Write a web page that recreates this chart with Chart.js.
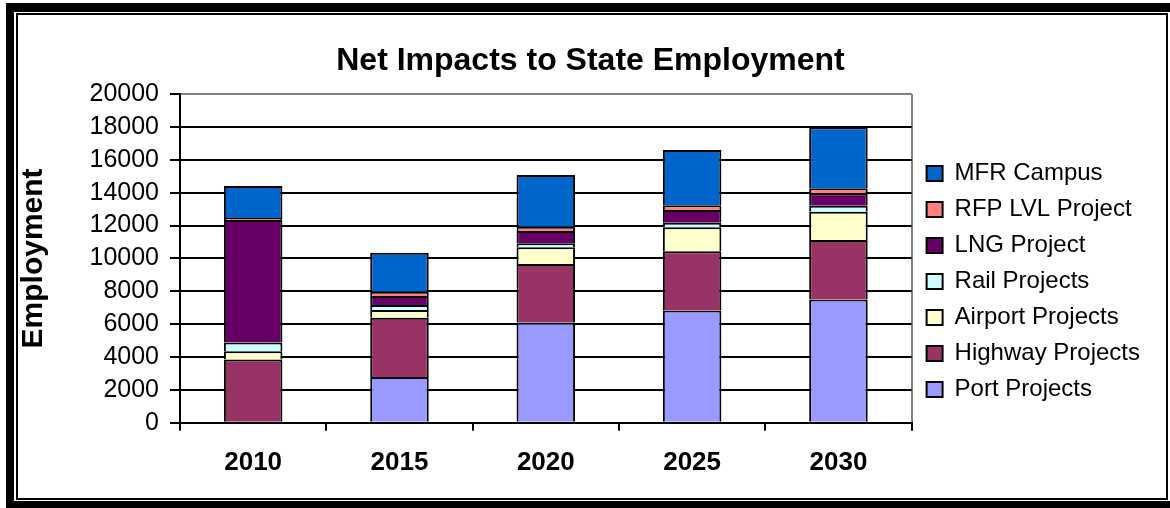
<!DOCTYPE html>
<html>
<head>
<meta charset="utf-8">
<title>Net Impacts to State Employment</title>
<script src="https://cdn.jsdelivr.net/npm/chart.js@4.4.1/dist/chart.umd.min.js"></script>
<style>
  html, body { margin: 0; padding: 0; background: #fff; }
  body { width: 1170px; height: 508px; position: relative; overflow: hidden; }
  /* heavy outer frame + thin inner chart border */
  #frame { position: absolute; left: 6px; top: 3px; width: 1200px; height: 505px; box-sizing: border-box;
           border: solid #000; border-width: 9px 0 7px 8px; }
  #inner { position: absolute; left: 16px; top: 13px; width: 1152px; height: 487px; box-sizing: border-box;
           border: 2.5px solid #000; background: #fff; }
  #wrap { position: absolute; left: 0; top: 0; width: 1170px; height: 508px; }
</style>
</head>
<body>
<div id="frame"></div>
<div id="inner"></div>
<div id="wrap"><canvas id="chart"></canvas></div>
<script>
// Net employment impact by project group, stacked per milestone year
const years = ['2010', '2015', '2020', '2025', '2030'];

const portProjects    = [0,    2780, 6100, 6830, 7500];
const highwayProjects = [3850, 3610, 3560, 3610, 3620];
const airportProjects = [500,  470,  1020, 1460, 1720];
const railProjects    = [530,  300,  240,  270,  370];
const lngProject      = [7450, 550,  750,  770,  750];
const rfpLvlProject   = [120,  260,  260,  290,  300];
const mfrCampus       = [1950, 2370, 3150, 3370, 3710];

const yMin = 0, yMax = 20000, yStep = 2000;

const FONT = "'Liberation Sans', Arial, sans-serif";
Chart.defaults.font.family = FONT;
Chart.defaults.color = '#000';

// bottom-to-top stacking order (legend lists it reversed)
const groups = [
  ['Port Projects',    portProjects,    '#9999FF'],
  ['Highway Projects', highwayProjects, '#993366'],
  ['Airport Projects', airportProjects, '#FFFFCC'],
  ['Rail Projects',    railProjects,    '#CCFFFF'],
  ['LNG Project',      lngProject,      '#660066'],
  ['RFP LVL Project',  rfpLvlProject,   '#FF8080'],
  ['MFR Campus',       mfrCampus,       '#0066CC']
];

const datasets = groups.map(([label, data, color]) => ({
  label,
  data,
  backgroundColor: color,
  borderColor: '#000',
  borderWidth: 2,
  borderSkipped: 'start',
  barPercentage: 0.4,
  categoryPercentage: 1.0
}));

// legend column sits a little lower than the plot centre, title a bit right
const boxNudge = {
  id: 'boxNudge',
  afterLayout(chart) {
    const lg = chart.legend;
    lg.top += 23; lg.bottom += 23;
    lg.left += 3; lg.right += 3;
    const tb = chart.titleBlock;
    tb.left += 9; tb.right += 9;
  }
};

new Chart(document.getElementById('chart'), {
  type: 'bar',
  data: { labels: years, datasets },
  plugins: [boxNudge],
  options: {
    responsive: true,
    maintainAspectRatio: false,
    animation: false,
    layout: { padding: { top: 20, right: 23, bottom: 14, left: 16 } },
    plugins: {
      title: {
        display: true,
        text: 'Net Impacts to State Employment',
        font: { size: 32, weight: 'bold' },
        padding: { top: 22, bottom: 13.6 },
        color: '#000'
      },
      legend: {
        position: 'right',
        align: 'center',
        reverse: true,
        fullSize: false,
        labels: {
          font: { size: 24 },
          boxWidth: 16,
          boxHeight: 15,
          padding: 12,
          color: '#000'
        }
      },
      tooltip: { enabled: false }
    },
    scales: {
      x: {
        stacked: true,
        grid: {
          offset: true,
          // only the closing line on the right edge of the plot is visible
          color: ctx => ctx.type === 'scale' ? '#808080' : 'rgba(0,0,0,0)',
          drawTicks: true,
          tickLength: 8,
          tickColor: '#000',
          lineWidth: 2
        },
        border: { color: '#000', width: 2 },
        ticks: { font: { size: 26, weight: 'bold' }, padding: 16, color: '#000' }
      },
      y: {
        stacked: true,
        min: yMin,
        max: yMax,
        afterFit(scale) { scale.width = 164; },
        grid: {
          color: ctx => (ctx.tick && ctx.tick.value === yMax) ? '#808080' : '#000',
          lineWidth: 2,
          tickLength: 10,
          tickColor: '#000'
        },
        border: { color: '#000', width: 2 },
        ticks: {
          stepSize: yStep,
          autoSkip: false,
          font: { size: 25 },
          padding: 11,
          color: '#000',
          callback: v => String(v)
        },
        title: {
          display: true,
          text: 'Employment',
          font: { size: 30, weight: 'bold' },
          padding: { top: 0, bottom: 0 },
          color: '#000'
        }
      }
    }
  }
});
</script>
</body>
</html>
